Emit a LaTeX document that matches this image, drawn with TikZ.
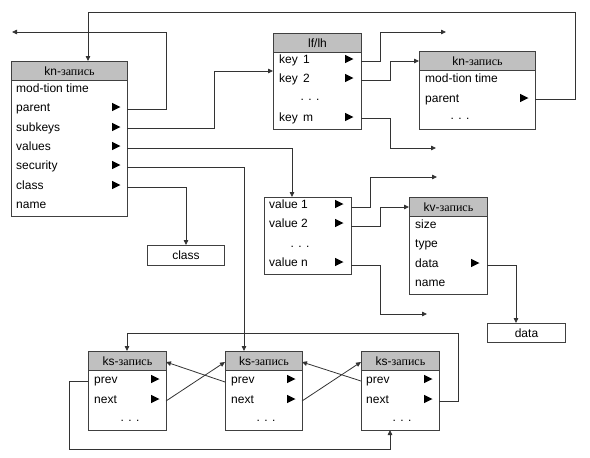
\documentclass[tikz,border=0pt]{standalone}
\usepackage{fontspec}
\setmainfont{Liberation Sans}
\newfontfamily\cyr{Liberation Serif}
\usetikzlibrary{arrows.meta}
\definecolor{headgray}{RGB}{192,192,192}
\newcommand\rowtri[2]{\fill[black] ({#1-4},{#2-4.2}) -- ({#1+4.5},{#2}) -- ({#1-4},{#2+4.2}) -- cycle;}
\begin{document}
\begin{tikzpicture}[x=1pt,y=-1pt,
  frame/.style={draw=black!75,line width=1pt,fill=white,anchor=north west,inner sep=0pt},
  head/.style={frame,fill=headgray,font=\fontsize{12}{14}\selectfont,minimum height=19pt},
  rowtxt/.style={anchor=base west,yshift=-4pt,inner sep=0pt,font=\fontsize{12}{14}\selectfont},
  dotstxt/.style={anchor=base,inner sep=0pt,font=\fontsize{12}{14}\selectfont},
  link/.style={draw=black!80,line width=0.8pt},
  arr/.style={link,-{Triangle[length=5pt,width=4.5pt]}},
]
\useasboundingbox (0,0) rectangle (590,458);

% ---------- main kn record
\node[frame,minimum width=116pt,minimum height=155pt] (knA) at (11,61) {};
\node[head,minimum width=116pt] (knAh) at (11,61) {kn-{\cyr запись}};
\node[rowtxt] (knA-mod) at (16,88) {mod-tion time};
\node[rowtxt] (knA-parent) at (16,107) {parent};
\node[rowtxt] (knA-subkeys) at (16,127) {subkeys};
\node[rowtxt] (knA-values) at (16,146) {values};
\node[rowtxt] (knA-security) at (16,165) {security};
\node[rowtxt] (knA-class) at (16,185) {class};
\node[rowtxt] (knA-name) at (16,204) {name};
\rowtri{116}{107}\rowtri{116}{127}\rowtri{116}{146}\rowtri{116}{165}\rowtri{116}{185}

% ---------- lf/lh
\node[frame,minimum width=88pt,minimum height=96pt] (lf) at (273,33) {};
\node[head,minimum width=88pt] (lfh) at (273,33) {lf/lh};
\node[rowtxt] (lf-k1) at (279,59) {key\hskip2pt\ 1};
\node[rowtxt] (lf-k2) at (279,78) {key\hskip2pt\ 2};
\node[dotstxt] (lf-dots) at (310,100.5) {. . .};
\node[rowtxt] (lf-km) at (279,117) {key\hskip2pt\ m};
\rowtri{349}{59}\rowtri{349}{78}\rowtri{349}{117}

% ---------- second kn record
\node[frame,minimum width=116pt,minimum height=78pt] (knB) at (419,51) {};
\node[head,minimum width=116pt] (knBh) at (419,51) {kn-{\cyr запись}};
\node[rowtxt] (knB-mod) at (425,78) {mod-tion time};
\node[rowtxt] (knB-parent) at (425,98) {parent};
\node[dotstxt] (knB-dots) at (460,119.5) {. . .};
\rowtri{524}{98}

% ---------- values list
\node[frame,minimum width=87pt,minimum height=77pt] (val) at (264,197) {};
\node[rowtxt] (val-1) at (269,204) {value 1};
\node[rowtxt] (val-2) at (269,223) {value 2};
\node[dotstxt] (val-dots) at (300,247.3) {. . .};
\node[rowtxt] (val-n) at (269,262) {value n};
\rowtri{339}{204}\rowtri{339}{223}\rowtri{339}{262}

% ---------- kv record
\node[frame,minimum width=78pt,minimum height=97pt] (kv) at (409,197) {};
\node[head,minimum width=78pt] (kvh) at (409,197) {kv-{\cyr запись}};
\node[rowtxt] (kv-size) at (415,224) {size};
\node[rowtxt] (kv-type) at (415,243) {type};
\node[rowtxt] (kv-data) at (415,263) {data};
\node[rowtxt] (kv-name) at (415,282) {name};
\rowtri{475}{263}

% ---------- data / class boxes
\node[frame,minimum width=78pt,minimum height=19pt,font=\fontsize{12}{14}\selectfont] (data) at (487,323) {data};
\node[frame,minimum width=77pt,minimum height=20pt,font=\fontsize{12}{14}\selectfont] (cls) at (147,245) {class};

% ---------- ks records
\node[frame,minimum width=78pt,minimum height=79pt] (ks1) at (88,351) {};
\node[head,minimum width=78pt] (ks1h) at (88,351) {ks-{\cyr запись}};
\node[rowtxt] (ks1-prev) at (94,379) {prev};
\node[rowtxt] (ks1-next) at (94,399) {next};
\node[dotstxt] (ks1-dots) at (130,421.3) {. . .};
\rowtri{155}{379}\rowtri{155}{399}

\node[frame,minimum width=77pt,minimum height=79pt] (ks2) at (225,351) {};
\node[head,minimum width=77pt] (ks2h) at (225,351) {ks-{\cyr запись}};
\node[rowtxt] (ks2-prev) at (231,379) {prev};
\node[rowtxt] (ks2-next) at (231,399) {next};
\node[dotstxt] (ks2-dots) at (266,421.3) {. . .};
\rowtri{291}{379}\rowtri{291}{399}

\node[frame,minimum width=78pt,minimum height=79pt] (ks3) at (361,351) {};
\node[head,minimum width=78pt] (ks3h) at (361,351) {ks-{\cyr запись}};
\node[rowtxt] (ks3-prev) at (366,379) {prev};
\node[rowtxt] (ks3-next) at (366,399) {next};
\node[dotstxt] (ks3-dots) at (402,421.3) {. . .};
\rowtri{428}{379}\rowtri{428}{399}

% ---------- connector ends
\coordinate (kA-par) at (127,109);
\coordinate (kA-sub) at (127,128);
\coordinate (kA-val) at (127,148);
\coordinate (kA-sec) at (127,167);
\coordinate (kA-cls) at (127,187);
\coordinate (kA-in) at (88,61);
\coordinate (lf-o1) at (361,61);
\coordinate (lf-o2) at (361,80);
\coordinate (lf-om) at (361,118);
\coordinate (lf-in) at (273,71);
\coordinate (kB-par) at (535,99);
\coordinate (kB-in) at (419,61);
\coordinate (v-o1) at (351,207);
\coordinate (v-o2) at (351,226);
\coordinate (v-on) at (351,265);
\coordinate (v-in) at (292,197);
\coordinate (kv-in) at (409,207);
\coordinate (kv-dat) at (487,265);
\coordinate (data-in) at (516,323);
\coordinate (cls-in) at (186,245);
\coordinate (fe1) at (12,32);
\coordinate (fe2) at (446,32);
\coordinate (fe3) at (436,148);
\coordinate (fe4) at (437,177);
\coordinate (fe5) at (427,314);
\coordinate (ks1-in) at (127,351);
\coordinate (ks2-in) at (244,351);
\coordinate (ks3-in) at (390,430);
\coordinate (ks1-po) at (88,381);
\coordinate (ks1-no) at (166,401);
\coordinate (ks2-po) at (225,382);
\coordinate (ks2-no) at (302,401);
\coordinate (ks3-po) at (361,381);
\coordinate (ks3-no) at (439,401);
\coordinate (ks1-hr) at (166,362);
\coordinate (ks2-hl) at (225,362);
\coordinate (ks2-hr) at (302,362);
\coordinate (ks3-hl) at (361,362);

% ---------- connectors
\draw[arr] (kA-par) -- (166,109) -- (166,32) -- (fe1);
\draw[arr] (kB-par) -- (575,99) -- (575,12) -- (88,12) -- (kA-in);
\draw[arr] (kA-sub) -- (214,128) -- (214,71) -- (lf-in);
\draw[arr] (kA-val) -- (292,148) -- (v-in);
\draw[arr] (kA-sec) -- (244,167) -- (ks2-in);
\draw[arr] (kA-cls) -- (186,187) -- (cls-in);
\draw[arr] (lf-o1) -- (380,61) -- (380,32) -- (fe2);
\draw[arr] (lf-o2) -- (390,80) -- (390,61) -- (kB-in);
\draw[arr] (lf-om) -- (390,118) -- (390,148) -- (fe3);
\draw[arr] (v-o1) -- (370,207) -- (370,177) -- (fe4);
\draw[arr] (v-o2) -- (380,226) -- (380,207) -- (kv-in);
\draw[arr] (v-on) -- (380,265) -- (380,314) -- (fe5);
\draw[arr] (kv-dat) -- (516,265) -- (data-in);
\draw[arr] (ks3-no) -- (458,401) -- (458,333) -- (127,333) -- (ks1-in);
\draw[arr] (ks1-po) -- (69,381) -- (69,449) -- (390,449) -- (ks3-in);
\draw[arr] (ks1-no) -- (ks2-hl);
\draw[arr] (ks2-po) -- (ks1-hr);
\draw[arr] (ks2-no) -- (ks3-hl);
\draw[arr] (ks3-po) -- (ks2-hr);
\end{tikzpicture}
\end{document}
